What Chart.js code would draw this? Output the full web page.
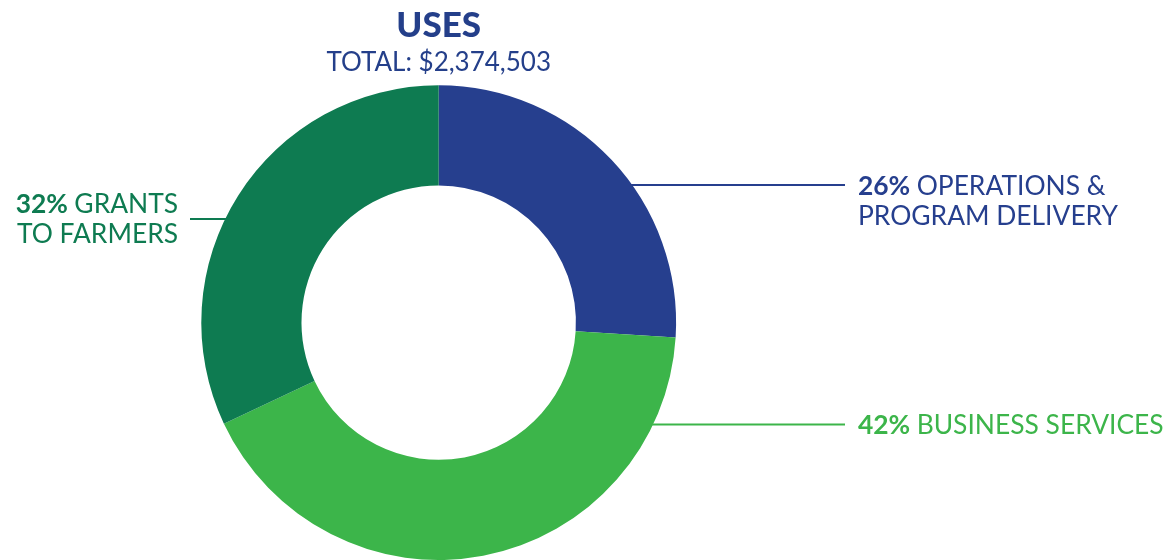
<!DOCTYPE html>
<html>
<head>
<meta charset="utf-8">
<script src="https://cdn.jsdelivr.net/npm/chart.js@4/dist/chart.umd.min.js"></script>
<style>
  html, body { margin: 0; padding: 0; background: #fff; }
  #wrap { width: 1165px; height: 560px; position: relative; }
</style>
</head>
<body>
<div id="wrap"><canvas id="chart"></canvas></div>
<script>
// data
const categories = ["OPERATIONS & PROGRAM DELIVERY", "BUSINESS SERVICES", "GRANTS TO FARMERS"];
const labelLines = [["OPERATIONS &", "PROGRAM DELIVERY"], ["BUSINESS SERVICES"], ["GRANTS", "TO FARMERS"]];
const shares = [26, 42, 32];
const titleText = "USES";
const subtitleText = "TOTAL: $2,374,503";

const colors = ["#263F8E", "#3CB54A", "#0E7B51"];

// where the callouts sit: vertical offset from the centre, side, text anchor
const callouts = [
  { dy: -137.5, side: "right", lineEnd: 845, textX: 858 },
  { dy: 102, side: "right", lineEnd: 845, textX: 858 },
  { dy: -103.5, side: "left", lineEnd: 190, textX: 178 },
];

const FONT = "Lato";

const calloutPlugin = {
  id: "callouts",
  afterDraw(chart) {
    const ctx = chart.ctx;
    const meta = chart.getDatasetMeta(0);
    const arc = meta.data[0];
    const cx = arc.x, cy = arc.y, r = arc.outerRadius;
    ctx.save();
    callouts.forEach((c, i) => {
      const y = cy + c.dy;
      const edge = Math.sqrt(r * r - c.dy * c.dy);
      ctx.strokeStyle = colors[i];
      ctx.lineWidth = 2;
      ctx.beginPath();
      if (c.side === "right") {
        ctx.moveTo(cx + edge - 2, y);
        ctx.lineTo(c.lineEnd, y);
      } else {
        ctx.moveTo(c.lineEnd, y);
        ctx.lineTo(cx - edge + 2, y);
      }
      ctx.stroke();

      const lines = labelLines[i];
      const pct = shares[i] + "%";
      const bold = "bold 26.4px " + FONT;
      const reg = "26.4px " + FONT;
      ctx.fillStyle = colors[i];
      ctx.textBaseline = "alphabetic";
      ctx.textAlign = "left";
      const lh = 30;
      const base0 = c.side === "right" ? y + 9.5 : y - 6.5;
      lines.forEach((ln, k) => {
        const by = base0 + k * lh;
        let first = k === 0 ? pct : "";
        ctx.font = bold;
        const wb = first ? ctx.measureText(first + " ").width : 0;
        ctx.font = reg;
        const wr = ctx.measureText(ln).width;
        let x = c.side === "right" ? c.textX : c.textX - wb - wr;
        if (first) {
          ctx.font = bold;
          ctx.fillText(first, x, by);
          x += wb;
        }
        ctx.font = reg;
        ctx.fillText(ln, x, by);
      });
    });
    ctx.restore();
  },
};

new Chart(document.getElementById("chart"), {
  type: "doughnut",
  data: {
    labels: categories,
    datasets: [{
      data: shares,
      backgroundColor: colors,
      borderWidth: 0,
      hoverOffset: 0,
    }],
  },
  options: {
    responsive: true,
    maintainAspectRatio: false,
    animation: false,
    cutout: "57.8%",
    layout: { padding: { left: 0, right: 287.6, top: 0, bottom: 0 } },
    plugins: {
      legend: { display: false },
      tooltip: { enabled: false },
      title: {
        display: true,
        text: titleText,
        color: "#243F8A",
        font: { family: FONT, size: 35, weight: "900" },
        padding: { top: 5, bottom: 0 },
      },
      subtitle: {
        display: true,
        text: subtitleText,
        color: "#243F8A",
        font: { family: FONT, size: 26, weight: "normal" },
        padding: { top: 0, bottom: 7 },
      },
    },
  },
  plugins: [calloutPlugin],
});
</script>
</body>
</html>
